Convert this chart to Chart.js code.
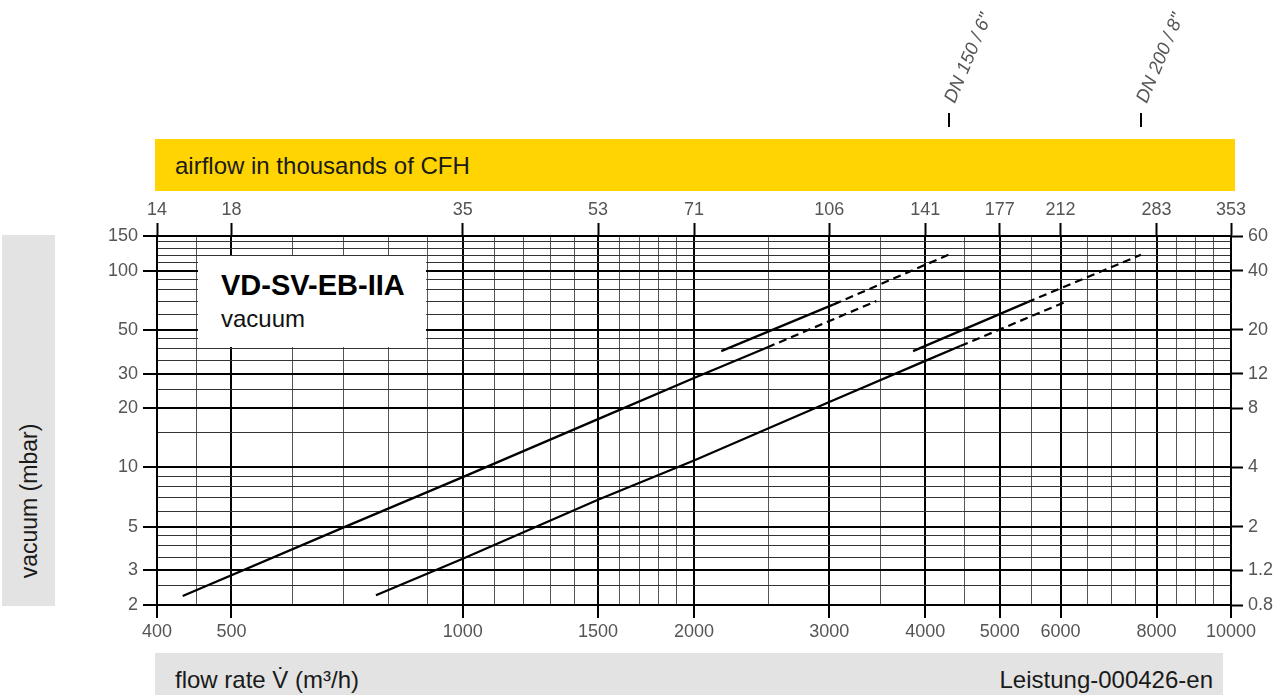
<!DOCTYPE html>
<html>
<head>
<meta charset="utf-8">
<script src="https://cdn.jsdelivr.net/npm/chart.js@4/dist/chart.umd.min.js"></script>
<style>
  body { margin: 0; background: #fff; font-family: "Liberation Sans", Arial, sans-serif; }
  #wrap { position: relative; width: 1273px; height: 695px; overflow: hidden; }
  .band { position: absolute; color: #1a1a1a; }
  #topBand { left: 155px; top: 139px; width: 1080px; height: 52px; background: #ffd400;
    font-size: 24px; line-height: 54px; padding-left: 20px; box-sizing: border-box; }
  #bottomBand { left: 155px; top: 653px; width: 1068px; height: 42px; background: #e3e3e3;
    font-size: 24px; line-height: 30px; padding: 12px 10px 0 20px; box-sizing: border-box;
    display: flex; justify-content: space-between; }
  #leftBand { left: 2px; top: 235px; width: 53px; height: 371px; background: #e3e3e3; }
  #leftBand span { position: absolute; left: 27px; top: 266px; white-space: nowrap; font-size: 23px;
    transform: translate(-50%, -50%) rotate(-90deg); }
  canvas { position: absolute; left: 0; top: 0; }
  #box { position: absolute; left: 198px; top: 256px; width: 228px; height: 91px; background: #fff; z-index: 2; }
  #box .t { position: absolute; left: 23px; top: 15px; font-size: 29px; line-height: 28px; font-weight: bold; color: #000; }
  #box .s { position: absolute; left: 23px; top: 51px; font-size: 24px; line-height: 23px; color: #111; }
</style>
</head>
<body>
<div id="wrap">
  <div class="band" id="topBand">airflow in thousands of CFH</div>
  <div class="band" id="bottomBand"><span>flow rate V̇ (m³/h)</span><span>Leistung-000426-en</span></div>
  <div class="band" id="leftBand"><span>vacuum (mbar)</span></div>
  <canvas id="chart" width="1273" height="695"></canvas>
  <div id="box"><div class="t">VD-SV-EB-IIA</div><div class="s">vacuum</div></div>
</div>
<script>
// grid and tick values
const flowGrid = [400, 450, 500, 600, 700, 800, 900, 1000, 1100, 1200, 1300, 1400, 1500, 1600, 1700, 1800, 1900,
  2000, 2500, 3000, 3500, 4000, 4500, 5000, 5500, 6000, 6500, 7000, 7500, 8000, 8500, 9000, 9500, 10000];
const flowLabels = [400, 500, 1000, 1500, 2000, 3000, 4000, 5000, 6000, 8000, 10000];
const cfhLabels = ["14", "18", "35", "53", "71", "106", "141", "177", "212", "283", "353"];
const vacGrid = [2, 2.5, 3, 3.5, 4, 4.5, 5, 6, 7, 8, 9, 10, 15, 20, 25, 30, 35, 40, 45, 50,
  60, 70, 80, 90, 100, 110, 120, 130, 140, 150];
const vacLabels = [2, 3, 5, 10, 20, 30, 50, 100, 150];
const inwcLabels = ["0.8", "1.2", "2", "4", "8", "12", "20", "40", "60"];

// DN 150 curves
const dn150MainFlow = [432, 700, 1000, 1500, 2000, 2490];
const dn150MainVac = [2.22, 4.96, 8.93, 17.6, 28.5, 40.7];
const dn150MainDashFlow = [2490, 3455];
const dn150MainDashVac = [40.7, 70.1];
const dn150UpperFlow = [2170, 3040];
const dn150UpperVac = [39.0, 67.4];
const dn150UpperDashFlow = [3040, 4290];
const dn150UpperDashVac = [67.4, 120.5];

// DN 200 curves
const dn200MainFlow = [771, 1000, 1500, 2000, 3000, 4000, 4443];
const dn200MainVac = [2.24, 3.44, 6.86, 10.86, 21.5, 34.8, 41.4];
const dn200MainDashFlow = [4443, 6127];
const dn200MainDashVac = [41.4, 70.1];
const dn200UpperFlow = [3856, 5427];
const dn200UpperVac = [39.0, 69.0];
const dn200UpperDashFlow = [5427, 7635];
const dn200UpperDashVac = [69.0, 120.5];

const dnLabels = ['DN 150 / 6"', 'DN 200 / 8"'];
const dnFlows = [4290, 7635];

const pts = (xs, ys) => xs.map((x, i) => ({ x, y: ys[i] }));
const FONT = '"Liberation Sans", Arial, sans-serif';
Chart.defaults.font.family = FONT;

const solidLine = { borderColor: "#000", borderWidth: 2.2, pointRadius: 0, fill: false, tension: 0 };
const dashLine = { ...solidLine, borderDash: [8, 5] };

const isLabel = (list, v) => list.includes(v);

const dnPlugin = {
  id: "dnMarks",
  afterDraw(chart) {
    const { ctx } = chart;
    const x = chart.scales.x;
    dnFlows.forEach((flow, i) => {
      const px = Math.round(x.getPixelForValue(flow));
      ctx.save();
      ctx.strokeStyle = "#000";
      ctx.lineWidth = 2;
      ctx.beginPath();
      ctx.moveTo(px, 113);
      ctx.lineTo(px, 127);
      ctx.stroke();
      ctx.translate(px + 1, 102);
      ctx.rotate(-67 * Math.PI / 180);
      ctx.font = "italic 18.5px " + FONT;
      ctx.fillStyle = "#555";
      ctx.textAlign = "left";
      ctx.textBaseline = "middle";
      ctx.fillText(dnLabels[i], 0, 0);
      ctx.restore();
    });
  },
};

const tickFont = { size: 18, family: FONT };

new Chart(document.getElementById("chart"), {
  type: "line",
  data: {
    datasets: [
      { ...solidLine, data: pts(dn150MainFlow, dn150MainVac) },
      { ...dashLine, data: pts(dn150MainDashFlow, dn150MainDashVac) },
      { ...solidLine, data: pts(dn150UpperFlow, dn150UpperVac) },
      { ...dashLine, data: pts(dn150UpperDashFlow, dn150UpperDashVac) },
      { ...solidLine, data: pts(dn200MainFlow, dn200MainVac) },
      { ...dashLine, data: pts(dn200MainDashFlow, dn200MainDashVac) },
      { ...solidLine, data: pts(dn200UpperFlow, dn200UpperVac) },
      { ...dashLine, data: pts(dn200UpperDashFlow, dn200UpperDashVac) },
    ],
  },
  options: {
    animation: false,
    responsive: false,
    devicePixelRatio: 1,
    layout: { padding: 0 },
    plugins: { legend: { display: false }, tooltip: { enabled: false } },
    scales: {
      x: {
        type: "logarithmic",
        position: "bottom",
        min: 400,
        max: 10000,
        afterBuildTicks: (s) => { s.ticks = flowGrid.map((v) => ({ value: v })); },
        afterFit: (s) => { s.height = 90; },
        grid: {
          color: (c) => (isLabel(flowLabels, c.tick.value) ? "#000" : "#555"),
          lineWidth: (c) => (isLabel(flowLabels, c.tick.value) ? 2 : 1),
          tickLength: 13,
          tickWidth: 2,
          tickColor: (c) => (isLabel(flowLabels, c.tick.value) ? "#000" : "rgba(0,0,0,0)"),
        },
        border: { color: "#000", width: 2 },
        ticks: {
          autoSkip: false, maxRotation: 0, minRotation: 0, padding: 3, color: "#555", font: tickFont,
          callback: (v) => (isLabel(flowLabels, v) ? String(v) : ""),
        },
      },
      x2: {
        type: "logarithmic",
        position: "top",
        min: 400,
        max: 10000,
        afterBuildTicks: (s) => { s.ticks = flowLabels.map((v) => ({ value: v })); },
        afterFit: (s) => { s.height = 236; },
        grid: { drawOnChartArea: false, tickLength: 13, tickWidth: 2, tickColor: "#000" },
        border: { color: "#000", width: 2 },
        ticks: {
          autoSkip: false, maxRotation: 0, minRotation: 0, padding: 2, color: "#555", font: tickFont,
          callback: (v, i) => cfhLabels[i],
        },
      },
      y: {
        type: "logarithmic",
        position: "left",
        min: 2,
        max: 150,
        afterBuildTicks: (s) => { s.ticks = vacGrid.map((v) => ({ value: v })); },
        afterFit: (s) => { s.width = 157; },
        grid: {
          color: (c) => (isLabel(vacLabels, c.tick.value) ? "#000" : "#333"),
          lineWidth: (c) => (isLabel(vacLabels, c.tick.value) ? 2 : 1),
          tickLength: 14,
          tickWidth: 2,
          tickColor: (c) => (isLabel(vacLabels, c.tick.value) ? "#000" : "rgba(0,0,0,0)"),
        },
        border: { color: "#000", width: 2 },
        ticks: {
          autoSkip: false, padding: 5, color: "#555", font: tickFont,
          callback: (v) => (isLabel(vacLabels, v) ? String(v) : ""),
        },
      },
      y2: {
        type: "logarithmic",
        position: "right",
        min: 2,
        max: 150,
        afterBuildTicks: (s) => { s.ticks = vacLabels.map((v) => ({ value: v })); },
        afterFit: (s) => { s.width = 42; },
        grid: { drawOnChartArea: false, tickLength: 12, tickWidth: 2, tickColor: "#000" },
        border: { color: "#000", width: 2 },
        ticks: {
          autoSkip: false, padding: 5, color: "#555", font: tickFont,
          callback: (v, i) => inwcLabels[i],
        },
      },
    },
  },
  plugins: [dnPlugin],
});
</script>
</body>
</html>
